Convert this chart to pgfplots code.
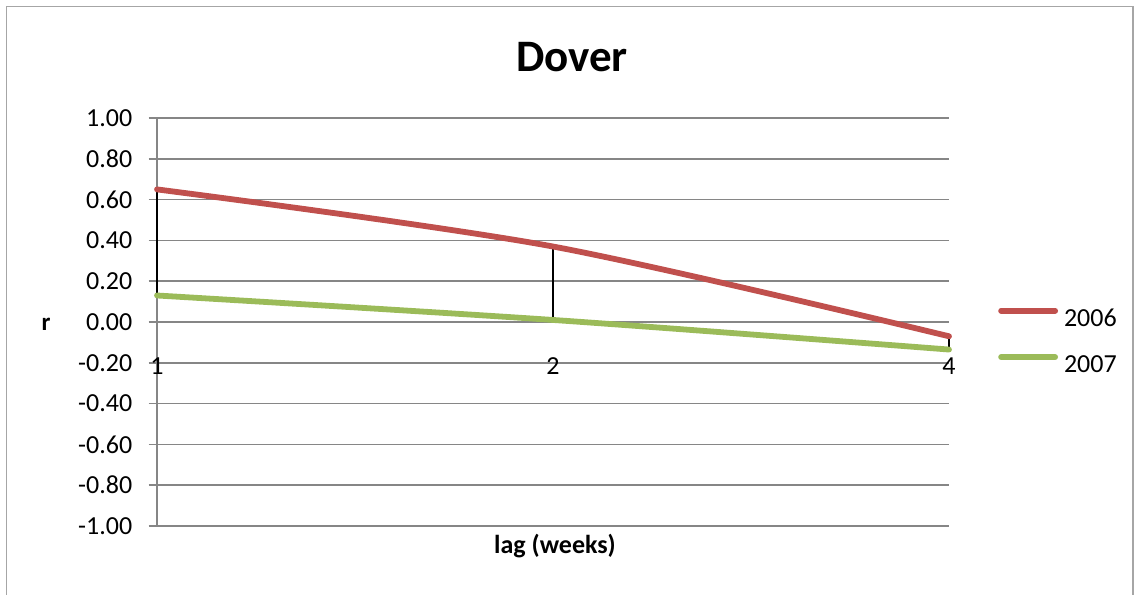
\documentclass[border=0pt]{standalone}
\usepackage{fontspec}
\setmainfont{Carlito}
\usepackage{pgfplots}
\pgfplotsset{compat=1.18}
\definecolor{xlred}{HTML}{C0504D}
\definecolor{xlgreen}{HTML}{9BBB59}
\definecolor{xlgrid}{HTML}{868686}
\definecolor{xlframe}{HTML}{A6A6A6}

\begin{document}
\begin{tikzpicture}[x=1pt,y=1pt]
\useasboundingbox (0,0) rectangle (1139,594);
% chart frame (bottom edge lies outside the picture)
\draw[xlframe, line width=1.5pt] (6.5,-20) -- (6.5,587.5) -- (1133,587.5) -- (1133,-20);
\begin{axis}[
    at={(157pt,68pt)}, anchor=south west,
    scale only axis, width=792pt, height=408pt,
    xmin=0, xmax=2, ymin=-1, ymax=1,
    axis x line=middle, axis y line=left,
    axis line style={xlgrid, line width=1.5pt, -},
    xtick=\empty,
    ytick={-1,-0.8,-0.6,-0.4,-0.2,0,0.2,0.4,0.6,0.8,1},
    yticklabels={-1.00,-0.80,-0.60,-0.40,-0.20,0.00,0.20,0.40,0.60,0.80,1.00},
    ymajorgrids, grid style={xlgrid, line width=1.5pt},
    ytick style={xlgrid, line width=1.5pt},
    tick align=outside, major tick length=8.5pt,
    y tick label style={font=\fontsize{26}{31}\selectfont, inner sep=0pt, xshift=-16pt},
    legend style={draw=none, fill=none, at={(1.0619,0.4534)}, anchor=west,
        inner sep=0pt, row sep=26pt, font=\fontsize{26}{31}\selectfont,
        nodes={inner sep=0pt}},
    legend cell align=left,
    legend image code/.code={\draw[#1, line cap=round] (0pt,8pt) -- (54pt,8pt);},
    clip=false,
]
% high-low lines between the two years
\addplot[black, line width=1.2pt, forget plot] coordinates {(0,0.13) (0,0.65)};
\addplot[black, line width=1.2pt, forget plot] coordinates {(1,0.01) (1,0.37)};
\addplot[black, line width=1.2pt, forget plot] coordinates {(2,-0.135) (2,-0.07)};
\addplot[xlred, line width=5.8pt, smooth, line cap=round] coordinates {(0,0.65) (1,0.37) (2,-0.07)};
\addlegendentry{\hspace{6pt}2006}
\addplot[xlgreen, line width=5.8pt, smooth, line cap=round] coordinates {(0,0.13) (1,0.01) (2,-0.135)};
\addlegendentry{\hspace{6pt}2007}
% category labels below the zero line
\node[anchor=base, font=\fontsize{26}{31}\selectfont] at (axis cs:0,0) [yshift=-53pt] {1};
\node[anchor=base, font=\fontsize{26}{31}\selectfont] at (axis cs:1,0) [yshift=-53pt] {2};
\node[anchor=base, font=\fontsize{26}{31}\selectfont] at (axis cs:2,0) [yshift=-53pt] {4};
\end{axis}
\node[anchor=base, font=\fontsize{45}{54}\selectfont\bfseries] at (572,522) {Dover};
\node[anchor=base, font=\fontsize{26}{31}\selectfont\bfseries] at (555,41) {lag (weeks)};
\node[anchor=base, font=\fontsize{25}{30}\selectfont\bfseries] at (46,263) {r};
\end{tikzpicture}
\end{document}
